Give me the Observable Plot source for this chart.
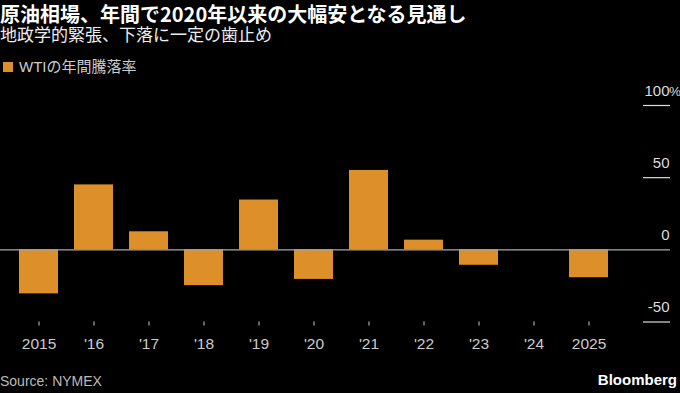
<!DOCTYPE html>
<html><head><meta charset="utf-8">
<script src="https://cdn.jsdelivr.net/npm/d3@7"></script>
<script src="https://cdn.jsdelivr.net/npm/@observablehq/plot@0.6"></script>
<style>
html,body{margin:0;padding:0;background:#000;}
#wrap{position:relative;width:680px;height:393px;background:#000;overflow:hidden;}
.title{position:absolute;left:0;top:-1px;font-family:"Noto Sans CJK JP";font-weight:700;font-size:20px;line-height:29px;color:#fff;white-space:nowrap;}
.subtitle{position:absolute;left:0;top:24px;font-family:"Noto Sans CJK JP";font-weight:400;font-size:17px;line-height:19px;color:#eee;white-space:nowrap;}
.legend{position:absolute;left:3px;top:57px;font-size:15px;line-height:20px;color:#ccc;white-space:nowrap;display:flex;align-items:center;}
.legend .sw{display:inline-block;width:10px;height:10px;margin-right:6px;}
.legend .lt{font-family:"Liberation Sans","Noto Sans CJK JP";}
#chart{position:absolute;left:0;top:80px;}
.source{position:absolute;left:0;top:372px;font-family:"Liberation Sans";font-size:14px;line-height:18px;color:#bbb;}
.brand{position:absolute;right:3px;top:371px;font-family:"Liberation Sans";font-weight:700;font-size:15px;line-height:18px;color:#fff;}
</style>
</head><body>
<div id="wrap">
  <div class="title">原油相場、年間で2020年以来の大幅安となる見通し</div>
  <div class="subtitle">地政学的緊張、下落に一定の歯止め</div>
  <div class="legend"><span class="sw" id="sw"></span><span class="lt">WTIの年間騰落率</span></div>
  <div id="chart"></div>
  <div class="source">Source: NYMEX</div>
  <div class="brand">Bloomberg</div>
</div>
<script>
const years = ["2015","2016","2017","2018","2019","2020","2021","2022","2023","2024","2025"];
const values = [-30.5, 45.0, 12.5, -24.8, 34.5, -20.5, 55.0, 6.7, -10.7, 0.1, -19.3];
const xTickLabels = ["2015","'16","'17","'18","'19","'20","'21","'22","'23","'24","2025"];
const yTicks = [-50, 0, 50, 100];
const gridTicks = [-50, 50, 100];
const barColor = "#dd8f29";

document.getElementById("sw").style.background = barColor;

const data = years.map((year, i) => ({year, value: values[i]}));
const labelOf = new Map(years.map((y, i) => [y, xTickLabels[i]]));

const chart = Plot.plot({
  width: 680,
  height: 275,
  marginTop: 25,
  marginBottom: 33.5,
  marginLeft: 0,
  marginRight: 10,
  style: {background: "#000", color: "#ccc", fontFamily: "Liberation Sans", fontSize: "15.5px"},
  x: {domain: years, range: [0, 626], paddingInner: 0.3, paddingOuter: 0.3},
  y: {domain: [-50, 100]},
  marks: [
    Plot.barY(data, {x: "year", y: "value", fill: barColor}),
    Plot.ruleY([0], {stroke: "#aaa", strokeWidth: 1.2}),
    Plot.ruleY(gridTicks, {stroke: "#ddd", strokeWidth: 1.2, insetLeft: 643}),
    Plot.text(yTicks, {y: d => d, text: d => String(d), frameAnchor: "right", textAnchor: "end", lineAnchor: "bottom", dy: -10, dx: -1, fill: "#ddd", fontFamily: "Liberation Sans", fontSize: 15}),
    Plot.text([100], {y: d => d, text: () => "%", frameAnchor: "right", textAnchor: "start", lineAnchor: "bottom", dy: -10, dx: -1.5, fill: "#ddd", fontFamily: "Liberation Sans", fontSize: 13.5}),
    Plot.axisX({tickSize: 4, tickPadding: 12, tickFormat: d => labelOf.get(d), color: "#ccc", label: null}),
    Plot.axisY({ticks: [], label: null})
  ]
});
document.getElementById("chart").appendChild(chart);
</script>
</body></html>
